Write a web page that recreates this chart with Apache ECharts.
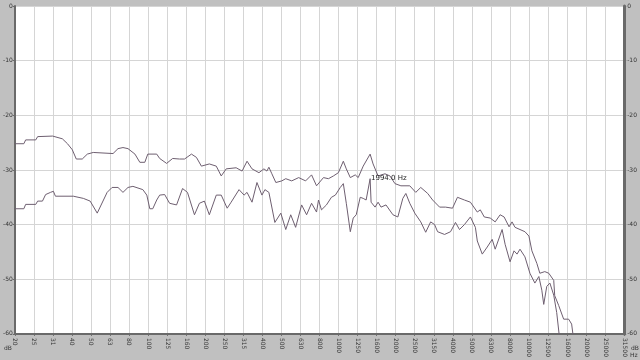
<!DOCTYPE html>
<html>
<head>
<meta charset="utf-8">
<script src="https://cdn.jsdelivr.net/npm/echarts@6/dist/echarts.min.js"></script>
<style>html,body{margin:0;padding:0;background:#c0c0c0}#c{width:640px;height:360px}</style>
</head>
<body>
<div id="c"></div>
<script>
// third-octave tick labels (Hz)
const X_TICK_LABELS = ['20','25','31','40','50','63','80','100','125','160','200','250','315','400','500','630','800','1000','1250','1600','2000','2500','3150','4000','5000','6300','8000','10000','12500','16000','20000','25000','31500'];
const Y_TICKS = [-60,-50,-40,-30,-20,-10,0];

// upper spectrum (Hz, dB)
const UPPER_FREQ = [20.2,22.5,23.0,26.0,26.6,31.9,35.9,38.2,40.5,42.5,45.7,48.6,52.2,66.4,70.5,74.9,79.6,86.6,91.9,97.6,101.2,112.8,116.9,127.2,136.8,148.8,158.1,171.9,182.6,193.9,213.5,232.3,246.7,262.0,295.6,317.7,337.4,358.4,389.9,414.1,429.3,439.8,456.0,478.5,514.4,539.7,580.1,631.5,686.7,738.2,784.0,803.1,852.9,905.9,962.0,1022,1085,1125,1181,1254,1300,1381,1502,1557,1654,1799,1911,2030,2182,2430,2613,2776,3020,3207,3489,3751,4081,4334,4715,5071,5514,5717,5999,6450,6849,7273,7633,8106,8404,8714,9254,9828,10314,10694,11357,11774,12505,13122,13936,14106,14801,15722,16699,17316,17738];
const UPPER_DB = [-25.2,-25.2,-24.5,-24.5,-23.9,-23.8,-24.3,-25.2,-26.3,-28.0,-28.0,-27.1,-26.8,-27.0,-26.1,-25.9,-26.1,-27.1,-28.6,-28.6,-27.1,-27.1,-27.9,-28.8,-27.9,-28.0,-28.0,-27.1,-27.7,-29.3,-28.9,-29.3,-31.1,-29.8,-29.6,-30.2,-28.4,-29.8,-30.5,-29.8,-30.2,-29.5,-30.7,-32.3,-32.0,-31.6,-32.0,-31.4,-32.0,-30.9,-32.9,-32.9,-31.4,-31.6,-31.1,-30.5,-28.4,-29.8,-31.4,-30.9,-31.4,-29.3,-27.1,-28.9,-31.1,-30.7,-31.1,-32.5,-32.9,-32.9,-34.1,-33.2,-34.3,-35.5,-36.8,-36.8,-37.0,-35.0,-35.5,-35.9,-37.7,-37.3,-38.6,-38.8,-39.5,-38.2,-38.6,-40.4,-39.5,-40.5,-40.9,-41.3,-42.1,-44.8,-47.1,-48.9,-48.6,-48.9,-50.2,-53.0,-54.8,-57.3,-57.3,-58.2,-61];

// lower spectrum (Hz, dB)
const LOWER_FREQ = [20.2,22.5,23.0,26.0,26.6,28.2,29.3,31.1,32.2,33.0,41.0,46.3,50.3,54.8,61.8,65.6,70.5,74.9,79.6,84.5,95.3,100.0,103.7,107.5,112.8,116.9,124.2,131.9,143.5,154.3,163.8,178.3,189.3,201.1,213.5,232.3,246.7,265.2,278.2,306.2,325.5,337.4,358.4,380.6,404.2,419.1,439.8,472.8,508.3,539.7,573.2,608.4,654.4,695.0,738.2,784.0,803.1,832.6,884.2,939.1,985.1,1046,1085,1125,1181,1224,1269,1332,1381,1431,1502,1520,1595,1654,1715,1821,1981,2103,2234,2317,2430,2582,2776,2948,3131,3285,3406,3706,3985,4231,4442,4715,5071,5387,5514,5855,6220,6606,6849,7451,7726,8204,8609,8927,9254,9828,10439,11086,11634,12060,12343,12807,13301,13936,14448,14981];
const LOWER_DB = [-37.1,-37.1,-36.3,-36.3,-35.7,-35.7,-34.5,-34.1,-33.9,-34.8,-34.8,-35.2,-35.7,-37.9,-34.1,-33.2,-33.2,-34.1,-33.2,-33.0,-33.6,-34.6,-37.1,-37.1,-35.5,-34.6,-34.5,-36.1,-36.4,-33.4,-34.1,-38.2,-36.1,-35.7,-38.2,-34.6,-34.6,-37.0,-35.9,-33.6,-34.6,-34.1,-35.9,-32.3,-34.6,-33.6,-34.1,-39.6,-37.9,-40.9,-38.2,-40.5,-36.4,-38.2,-36.1,-37.7,-35.5,-37.3,-36.4,-35.0,-34.6,-33.2,-32.5,-36.1,-41.3,-38.8,-38.2,-35.0,-35.2,-35.5,-31.6,-35.9,-36.8,-35.9,-36.8,-36.4,-38.2,-38.6,-35.2,-34.3,-36.1,-37.9,-39.5,-41.4,-39.5,-40.0,-41.3,-41.8,-41.3,-39.6,-40.9,-40.0,-38.6,-40.5,-43.0,-45.4,-44.1,-42.7,-44.5,-40.9,-43.6,-46.8,-44.8,-45.4,-44.5,-45.9,-48.9,-50.7,-49.5,-52.0,-54.6,-51.3,-50.7,-52.9,-56.1,-61];

const CURSOR_TEXT = '1994.0 Hz';

const F_MIN = Math.pow(2, 13/3);
const F_MAX = Math.pow(2, 15);
const zip = (a, b) => a.map((v, i) => [v, b[i]]);

const chart = echarts.init(document.getElementById('c'), null, {renderer: 'canvas'});
const lineColor = '#6e5f70';
const axisCol = '#6a6a6a';
const gridCol = '#d5d5d5';
const labelStyle = {fontSize: 6, color: '#333', fontFamily: 'DejaVu Sans'};

chart.setOption({
  backgroundColor: '#c0c0c0',
  animation: false,
  grid: {left: 14, right: 12, top: 6, bottom: 18, show: true, backgroundColor: '#ffffff', borderWidth: 0},
  xAxis: [
    {type: 'log', min: F_MIN, max: F_MAX, show: false},
    {
      type: 'value', min: 13, max: 45, interval: 1, position: 'bottom',
      axisLine: {show: true, onZero: false, lineStyle: {color: axisCol, width: 2}},
      axisTick: {show: true, length: 2, lineStyle: {color: axisCol}},
      axisLabel: Object.assign({rotate: -90, margin: 4, formatter: v => X_TICK_LABELS[Math.round(v - 13)] || ''}, labelStyle),
      splitLine: {show: true, lineStyle: {color: gridCol, width: 1}}
    }
  ],
  yAxis: [
    {
      type: 'value', min: Y_TICKS[0], max: Y_TICKS[Y_TICKS.length-1], interval: 10, position: 'left',
      axisLine: {show: true, lineStyle: {color: axisCol, width: 2}},
      axisTick: {show: true, length: 2, lineStyle: {color: axisCol}},
      axisLabel: Object.assign({margin: 2}, labelStyle),
      splitLine: {show: true, lineStyle: {color: gridCol, width: 1}}
    },
    {
      type: 'value', min: Y_TICKS[0], max: Y_TICKS[Y_TICKS.length-1], interval: 10, position: 'right',
      axisLine: {show: true, lineStyle: {color: axisCol, width: 3}},
      axisTick: {show: true, length: 2, lineStyle: {color: axisCol}},
      axisLabel: Object.assign({margin: 3}, labelStyle),
      splitLine: {show: false}
    }
  ],
  series: [
    {type: 'line', xAxisIndex: 0, yAxisIndex: 0, data: zip(UPPER_FREQ, UPPER_DB), symbol: 'none', lineStyle: {color: lineColor, width: 1}, z: 5},
    {type: 'line', xAxisIndex: 0, yAxisIndex: 0, data: zip(LOWER_FREQ, LOWER_DB), symbol: 'none', lineStyle: {color: lineColor, width: 1}, z: 5}
  ],
  graphic: [
    {type: 'text', left: 4, top: 345, style: {text: 'dB', fontSize: 6, fill: '#333', fontFamily: 'DejaVu Sans'}},
    {type: 'text', left: 631, top: 345, style: {text: 'dB', fontSize: 6, fill: '#333', fontFamily: 'DejaVu Sans'}},
    {type: 'text', left: 630, top: 352, style: {text: 'Hz', fontSize: 6, fill: '#333', fontFamily: 'DejaVu Sans'}},
    {type: 'text', left: 371, top: 175, z: 10, style: {text: CURSOR_TEXT, fontSize: 7, fill: '#222', fontFamily: 'DejaVu Sans'}}
  ]
});
</script>
</body>
</html>
